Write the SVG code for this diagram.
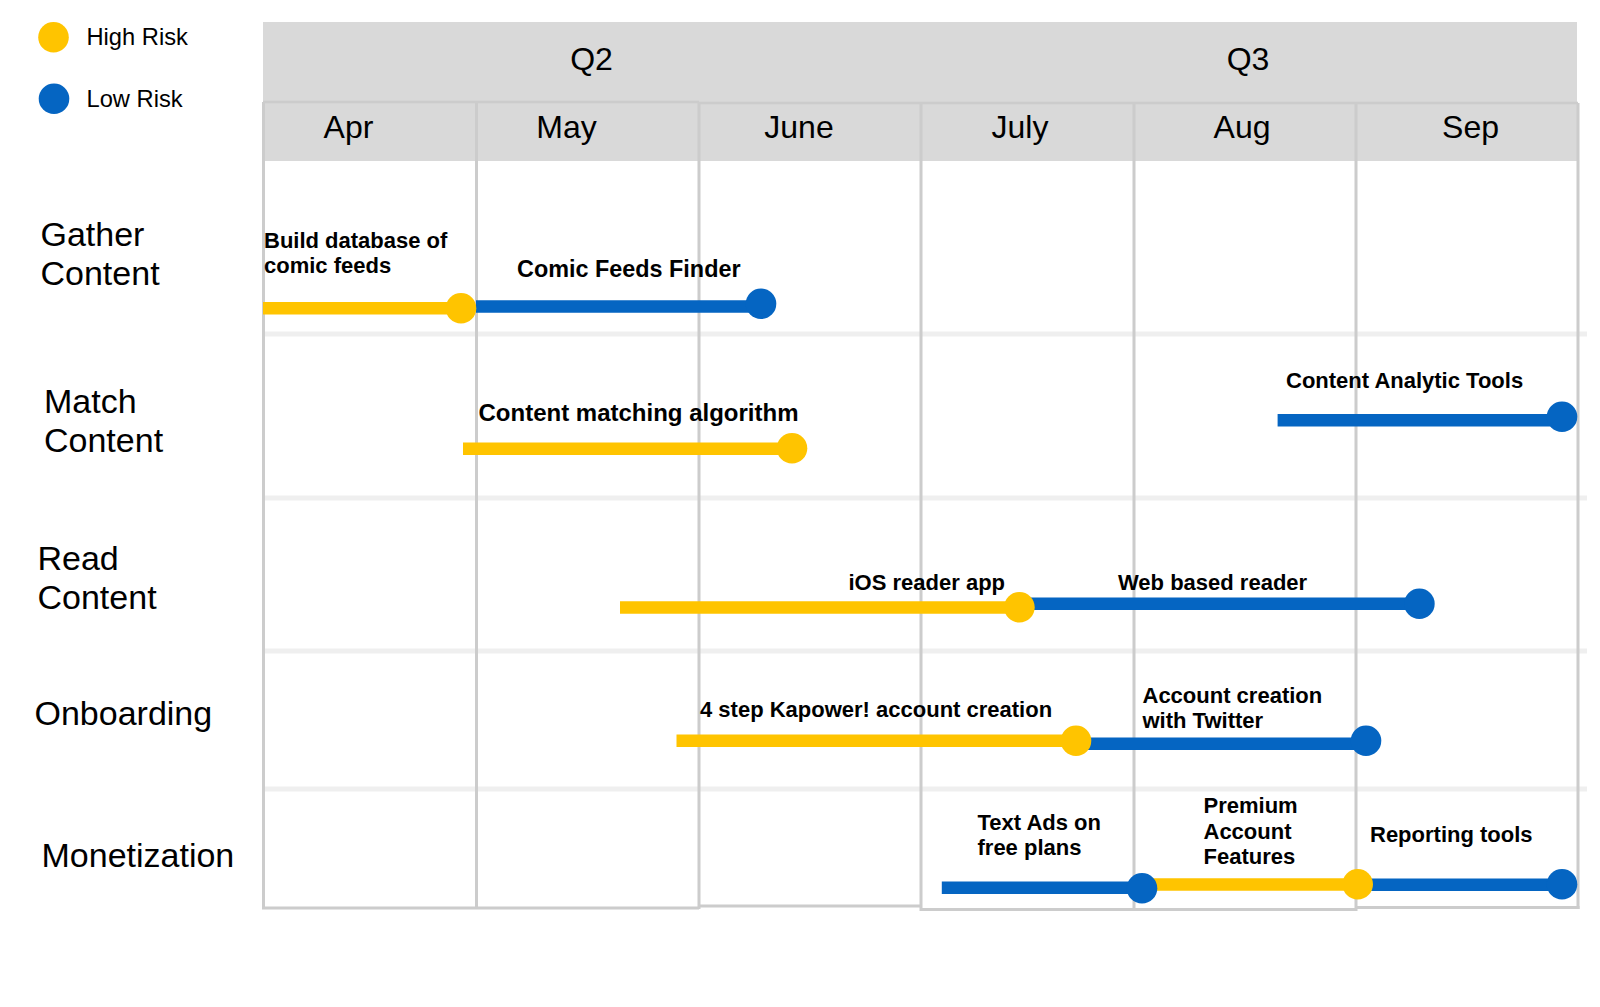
<svg xmlns="http://www.w3.org/2000/svg" width="1600" height="1007" viewBox="0 0 1600 1007">
<style>
.hdr{fill:#d9d9d9}
.vline{stroke:#cccccc;stroke-width:3;fill:none}
.sep{stroke:#efefef;stroke-width:5;fill:none}
.q{font-family:"Liberation Sans",Arial,sans-serif;font-size:32px;fill:#000;text-anchor:middle}
.row{font-family:"Liberation Sans",Arial,sans-serif;font-size:34px;fill:#000}
.leg{font-family:"Liberation Sans",Arial,sans-serif;font-size:23.7px;fill:#000}
.lbl{font-family:"Liberation Sans",Arial,sans-serif;font-size:22px;font-weight:bold;fill:#000}
.hi{stroke:#ffc400;stroke-width:12.5;fill:none}
.lo{stroke:#0565c2;stroke-width:12.5;fill:none}
.hic{fill:#ffc400}
.loc{fill:#0565c2}
</style>
<rect width="1600" height="1007" fill="#ffffff"/>

<g id="legend">
  <circle class="hic" cx="53.5" cy="37.3" r="15.3"/>
  <text class="leg" x="86.5" y="45">High Risk</text>
  <circle class="loc" cx="54" cy="98.7" r="15.3"/>
  <text class="leg" x="86.5" y="106.5">Low Risk</text>
</g>

<g id="header">
  <rect class="hdr" x="263" y="22" width="1314" height="80"/>
  <rect class="hdr" x="263" y="102" width="1315" height="59"/>
  <line x1="263" y1="102" x2="699" y2="102" stroke="#cccccc" stroke-width="2.5"/>
  <line x1="699" y1="103" x2="1578" y2="103" stroke="#cccccc" stroke-width="2.5"/>
  <text class="q" x="591.5" y="70">Q2</text>
  <text class="q" x="1248" y="70">Q3</text>
  <text class="q" x="348.5" y="137.5">Apr</text>
  <text class="q" x="566.5" y="137.5">May</text>
  <text class="q" x="799" y="137.5">June</text>
  <text class="q" x="1020" y="137.5">July</text>
  <text class="q" x="1242" y="137.5">Aug</text>
  <text class="q" x="1470.5" y="137.5">Sep</text>
</g>

<g id="grid">
  <line class="sep" x1="263" y1="334" x2="1587" y2="334"/>
  <line class="sep" x1="263" y1="498" x2="1587" y2="498"/>
  <line class="sep" x1="263" y1="651" x2="1587" y2="651"/>
  <line class="sep" x1="263" y1="789" x2="1587" y2="789"/>
  <line class="vline" x1="263.5" y1="102" x2="263.5" y2="909"/>
  <line class="vline" x1="476.5" y1="102" x2="476.5" y2="909"/>
  <line class="vline" x1="699" y1="102" x2="699" y2="909"/>
  <line class="vline" x1="921" y1="103" x2="921" y2="911"/>
  <line class="vline" x1="1134" y1="103" x2="1134" y2="911"/>
  <line class="vline" x1="1356" y1="103" x2="1356" y2="911"/>
  <line class="vline" x1="1578" y1="103" x2="1578" y2="909"/>
  <line class="vline" x1="262" y1="908" x2="699" y2="908"/>
  <line class="vline" x1="699" y1="906" x2="921" y2="906"/>
  <line class="vline" x1="921" y1="909.5" x2="1356" y2="909.5"/>
  <line class="vline" x1="1356" y1="907.5" x2="1579.5" y2="907.5"/>
</g>

<g id="row-labels">
  <text class="row" x="40.5" y="246">Gather</text>
  <text class="row" x="40.5" y="285">Content</text>
  <text class="row" x="44" y="413">Match</text>
  <text class="row" x="44" y="452">Content</text>
  <text class="row" x="37.5" y="570">Read</text>
  <text class="row" x="37.5" y="609">Content</text>
  <text class="row" x="34.5" y="725">Onboarding</text>
  <text class="row" x="41.5" y="867">Monetization</text>
</g>

<g id="connectors">
  <line class="hi" x1="263" y1="308.3" x2="461" y2="308.3"/>
  <line class="lo" x1="476" y1="306.4" x2="761" y2="306.4"/>
  <line class="hi" x1="463" y1="448.7" x2="792" y2="448.7"/>
  <line class="lo" x1="1277.6" y1="420.3" x2="1562" y2="420.3"/>
  <line class="hi" x1="620" y1="607.5" x2="1019" y2="607.5"/>
  <line class="lo" x1="1019" y1="603.7" x2="1419" y2="603.7"/>
  <line class="hi" x1="676.5" y1="740.7" x2="1076" y2="740.7"/>
  <line class="lo" x1="1076" y1="743.8" x2="1366" y2="743.8"/>
  <line class="lo" x1="941.8" y1="887.8" x2="1142" y2="887.8"/>
  <line class="hi" x1="1142" y1="884.5" x2="1357.7" y2="884.5"/>
  <line class="lo" x1="1357.7" y1="884.7" x2="1562" y2="884.7"/>
</g>

<g id="task-build-database">
  <circle class="hic" cx="461" cy="308.3" r="15.3"/>
  <text class="lbl" x="264" y="248">Build database of</text>
  <text class="lbl" x="264" y="273">comic feeds</text>
</g>
<g id="task-comic-feeds-finder">
  <circle class="loc" cx="761" cy="303.8" r="15.3"/>
  <text class="lbl" x="517" y="276.5" style="font-size:23.4px">Comic Feeds Finder</text>
</g>
<g id="task-content-matching">
  <circle class="hic" cx="792" cy="448.3" r="15.3"/>
  <text class="lbl" x="478.5" y="420.5" style="font-size:24px">Content matching algorithm</text>
</g>
<g id="task-content-analytic">
  <circle class="loc" cx="1562" cy="416.7" r="15.3"/>
  <text class="lbl" x="1286" y="388">Content Analytic Tools</text>
</g>
<g id="task-ios-reader">
  <circle class="hic" cx="1019.4" cy="607.3" r="15.3"/>
  <text class="lbl" x="848.5" y="590">iOS reader app</text>
</g>
<g id="task-web-reader">
  <circle class="loc" cx="1419.4" cy="603.7" r="15.3"/>
  <text class="lbl" x="1118" y="590">Web based reader</text>
</g>
<g id="task-kapower-account">
  <circle class="hic" cx="1076" cy="740.7" r="15.3"/>
  <text class="lbl" x="700" y="717">4 step Kapower! account creation</text>
</g>
<g id="task-twitter-account">
  <circle class="loc" cx="1366" cy="740.7" r="15.3"/>
  <text class="lbl" x="1142.5" y="703">Account creation</text>
  <text class="lbl" x="1142.5" y="728">with Twitter</text>
</g>
<g id="task-text-ads">
  <circle class="loc" cx="1142" cy="888.3" r="15.3"/>
  <text class="lbl" x="977.5" y="830">Text Ads on</text>
  <text class="lbl" x="977.5" y="855">free plans</text>
</g>
<g id="task-premium">
  <circle class="hic" cx="1357.7" cy="884.3" r="15.3"/>
  <text class="lbl" x="1203.5" y="813">Premium</text>
  <text class="lbl" x="1203.5" y="839">Account</text>
  <text class="lbl" x="1203.5" y="864">Features</text>
</g>
<g id="task-reporting">
  <circle class="loc" cx="1562" cy="884.3" r="15.3"/>
  <text class="lbl" x="1370" y="842">Reporting tools</text>
</g>
</svg>
